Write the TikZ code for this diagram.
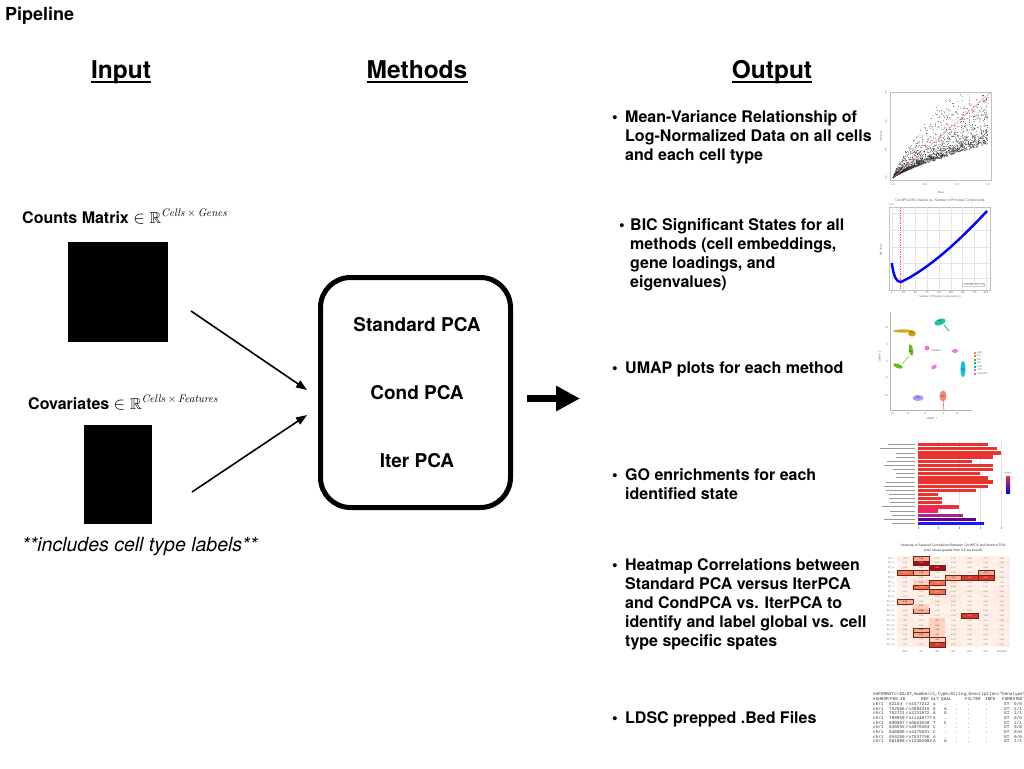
\documentclass[tikz,border=0pt]{standalone}
\usepackage{amssymb}
\usepackage[no-math]{fontspec}
\setmainfont{TeX Gyre Heros}
\newfontfamily\monof{Liberation Mono}
\usetikzlibrary{arrows.meta}
\definecolor{exc}{HTML}{C49A00}
\definecolor{mgc}{HTML}{00C094}
\definecolor{inhc}{HTML}{53B400}
\definecolor{perc}{HTML}{FB61D7}
\definecolor{odcc}{HTML}{00B6EB}
\definecolor{opcc}{HTML}{A58AFF}
\definecolor{ascc}{HTML}{F8766D}
\definecolor{barred}{HTML}{E8332E}
\definecolor{hmA}{HTML}{FFF3EC}
\definecolor{hmB}{HTML}{FDD3C0}
\definecolor{hmC}{HTML}{FCAA8E}
\definecolor{hmD}{HTML}{F4704F}
\definecolor{hmE}{HTML}{D8372B}
\definecolor{hmF}{HTML}{A50F15}
\definecolor{hmbox}{HTML}{6E2418}
\begin{document}
\begin{tikzpicture}[x=1pt,y=-1pt,
  hdr/.style={font=\fontsize{24.5}{29}\selectfont\bfseries, anchor=base, inner sep=0},
  ul/.style={line width=1.6},
  bul/.style={font=\fontsize{16}{19}\selectfont\bfseries, anchor=base west, inner sep=0},
  lbl/.style={font=\fontsize{16}{19}\selectfont\bfseries, anchor=base west, inner sep=0},
  mth/.style={font=\fontsize{19}{23}\selectfont\bfseries, inner sep=0},
  blk/.style={fill=black, inner sep=0},
  feed/.style={line width=1.6, -{Triangle[length=11pt,width=8pt]}},
  tnx/.style={font=\fontsize{2.6}{3}\selectfont, text=black!60, inner sep=0},
  cellnum/.style={font=\fontsize{1.9}{2}\selectfont, inner sep=0},
  mono/.style={font=\monof\fontsize{4.3}{5}\selectfont, text=black!80, anchor=base west, inner sep=0},
  frm/.style={draw=black!25, line width=0.4},
]
\useasboundingbox[fill=white] (0,0) rectangle (1024,768);

% ---------- titles ----------
\node[font=\fontsize{18}{22}\selectfont\bfseries, anchor=base west, inner sep=0] (title) at (5,21) {Pipeline};
\node[hdr] (hin) at (121,78) {Input};
\node[hdr] (hme) at (417,78) {Methods};
\node[hdr] (hout) at (772,78) {Output};
\foreach \h in {hin,hme,hout}
  \draw[ul] ([yshift=-3.8pt]\h.base west) -- ([yshift=-3.8pt]\h.base east);

% ---------- inputs ----------
\node[lbl] (cmt) at (22,223) {Counts Matrix $\in\mathbb{R}^{\mathit{Cells}\,\times\,\mathit{Genes}}$};
\node[blk, minimum width=100, minimum height=100] (cmx) at (118,292) {};
\node[lbl] (cvt) at (28,409) {Covariates $\in\mathbb{R}^{\mathit{Cells}\,\times\,\mathit{Features}}$};
\node[blk, minimum width=68, minimum height=99] (cvx) at (118,474.5) {};
\node[font=\fontsize{19.5}{24}\selectfont\itshape, anchor=base west, inner sep=0] (note) at (22,551) {**includes cell type labels**};

% ---------- methods ----------
\node[draw, line width=5, rounded corners=30, minimum width=190, minimum height=230, inner sep=0] (meth) at (415.5,392.5) {};
\node[mth] (spca) at (417,325) {Standard PCA};
\node[mth] (cpca) at (417,393) {Cond PCA};
\node[mth] (ipca) at (417,461) {Iter PCA};

\coordinate (a1s) at (191,311);
\coordinate (a1e) at (307,390);
\coordinate (a2s) at (192,492);
\coordinate (a2e) at (307,415);
\draw[feed] (a1s) -- (a1e);
\draw[feed] (a2s) -- (a2e);
\coordinate (bos) at (527,398.5);
\coordinate (boe) at (580,398.5);
\draw[line width=7, -{Triangle[length=24pt,width=24pt]}] (bos) -- (boe);

% ---------- output bullets ----------
\node[bul] (d1) at (612,122) {\textbullet};
\node[bul] (o1a) at (625,122) {Mean-Variance Relationship of};
\node[bul] (o1b) at (625,141) {Log-Normalized Data on all cells};
\node[bul] (o1c) at (625,160) {and each cell type};

\node[bul] (d2) at (619,230) {\textbullet};
\node[bul] (o2a) at (630,230) {BIC Significant States for all};
\node[bul] (o2b) at (630,249) {methods (cell embeddings,};
\node[bul] (o2c) at (630,268) {gene loadings, and};
\node[bul] (o2d) at (630,287) {eigenvalues)};

\node[bul] (d3) at (612,373.5) {\textbullet};
\node[bul] (o3a) at (625,373.5) {UMAP plots for each method};

\node[bul] (d4) at (612,480.5) {\textbullet};
\node[bul] (o4a) at (625,480.5) {GO enrichments for each};
\node[bul] (o4b) at (625,499.5) {identified state};

\node[bul] (d5) at (612,570.5) {\textbullet};
\node[bul] (o5a) at (625,570.5) {Heatmap Correlations between};
\node[bul] (o5b) at (625,589.5) {Standard PCA versus IterPCA};
\node[bul] (o5c) at (625,608.5) {and CondPCA vs. IterPCA to};
\node[bul] (o5d) at (625,627.5) {identify and label global vs. cell};
\node[bul] (o5e) at (625,646.5) {type specific spates};

\node[bul] (d6) at (612,723.5) {\textbullet};
\node[bul] (o6a) at (625,723.5) {LDSC prepped .Bed Files};

% ---------- thumbnail 1: mean-variance scatter ----------
\draw[frm] (890,92) rectangle (991,180);
\pgfmathsetseed{42}
\foreach \i in {1,...,2200}{
  \pgfmathsetmacro\s{(0.01+0.99*rnd)^1.4}
  \pgfmathsetmacro\q{0.001+rnd}
  \pgfmathsetmacro\t{min(0.985-0.3*rnd,\s^0.8*(0.40+0.25*\q+0.9*\q^6))}
  \fill[black!85] ({893+95*\s},{178-85*\t}) circle (0.4);
}
\draw[red!45, line width=0.5] (893,178) -- (990,93);
\foreach \xv/\lab in {893/0.0,925/0.5,957/1.0,988/1.5}
  \node[tnx] (sx\xv) at (\xv,185) {\lab};
\foreach \yv/\lab in {178/0.0,150/0.5,122/1.0,93/1.5}
  \node[tnx, rotate=90] (sy\yv) at (886,\yv) {\lab};
\node[tnx] (sxl) at (941,193) {Mean};
\node[tnx, rotate=90] (syl) at (881,136) {Variance};

% ---------- thumbnail 2: BIC curve ----------
\node[tnx, font=\fontsize{3.4}{4}\selectfont] (bict) at (940,201) {CondPCA BIC Values vs. Number of Principal Components};
\node[tnx, anchor=west] (bice) at (889,204.5) {1e7};
\draw[frm] (889,207) rectangle (990,290);
\foreach \k in {0,...,8}{
  \draw[black!10, line width=0.3] ({891.7+11.8*\k},207) -- ({891.7+11.8*\k},290);
  \pgfmathtruncatemacro\tick{25*\k}
  \node[tnx] (bx\k) at ({891.7+11.8*\k},292.5) {\tick};
}
\foreach \yv in {213,230,246.7,262.7,278}
  \draw[black!10, line width=0.3] (889,\yv) -- (990,\yv);
\draw[red!70, dash pattern=on 1pt off 0.7pt, line width=0.6] (900,208) -- (900,289);
\draw[blue, line width=2.4] (891.7,263) .. controls (894,277) and (896,282) .. (901,282) .. controls (930,268) and (960,240) .. (987,211);
\node[draw=black!20, line width=0.2, fill=white, inner sep=0.6, font=\fontsize{2.4}{3}\selectfont, text=black!60] (bicl) at (973,284.5) {\textcolor{red}{- -} Min BIC at j = 16};
\node[tnx] (bicx) at (940,296.5) {Number of Principal Components (j)};
\node[tnx, rotate=90] (bicy) at (881,250) {BIC Value};

% ---------- thumbnail 3: UMAP ----------
\draw[black!30, line width=0.4] (890,312) -- (890,410) -- (972,410);
\foreach \xv/\lab in {892/-10,908/-5,925/0,943/5,957/10}
  \node[tnx] (ux\xv) at (\xv,414) {\lab};
\foreach \yv/\lab in {328/10,345/5,362/0,378/-5,396/-10}
  \node[tnx, anchor=east] (uy\yv) at (888,\yv) {\lab};
\node[tnx] (uxl) at (932,418.5) {UMAP\_1};
\node[tnx, rotate=90] (uyl) at (880,356) {UMAP\_2};
\fill[exc, opacity=0.85] (903,331) ellipse[x radius=10, y radius=1.6];
\fill[exc, opacity=0.9] (912,333.5) ellipse[x radius=4, y radius=3];
\fill[mgc, opacity=0.9] (940,322) ellipse[x radius=6, y radius=3, rotate=20];
\draw[mgc, line width=0.8] (944,325) -- (949,331);
\fill[inhc, opacity=0.9] (898,366) ellipse[x radius=5, y radius=2.2, rotate=-20];
\fill[inhc, opacity=0.9] (911,350) ellipse[x radius=2, y radius=6, rotate=10];
\draw[inhc, line width=0.4] (902,364) -- (909,356);
\fill[perc, opacity=0.9] (927,348) ellipse[x radius=2.5, y radius=2.5];
\fill[perc, opacity=0.9] (955,351) ellipse[x radius=3, y radius=2];
\fill[perc, opacity=0.9] (934,367) ellipse[x radius=3, y radius=2, rotate=30];
\fill[odcc, opacity=0.9] (963,369) ellipse[x radius=2.5, y radius=8];
\fill[opcc, opacity=0.9] (918,398) ellipse[x radius=5.5, y radius=3];
\fill[ascc, opacity=0.9] (943,396) ellipse[x radius=3.5, y radius=5.5];
\draw[ascc, line width=0.7] (943,400) -- (944,411);
\foreach \xv/\yv/\lab in {912/333/EX,940/321/MG,910/352/INH,936/351/PER.END,963/370/ODC,918/398/OPC,943/397/ASC}
  \node[tnx, text=black!80, font=\fontsize{2}{2.4}\selectfont] (ul\lab) at (\xv,\yv) {\lab};
\foreach \k/\cl/\lab in {0/ascc/ASC,1/exc/EX,2/inhc/INH,3/mgc/MG,4/odcc/ODC,5/opcc/OPC,6/perc/PER.END}{
  \fill[\cl] (973.5,{351.5+3.5*\k}) rectangle ++(2,2);
  \node[tnx, anchor=west, font=\fontsize{2.3}{3}\selectfont] (lg\k) at (977,{352.5+3.5*\k}) {\lab};
}

% ---------- thumbnail 4: GO bar chart ----------
\foreach \xv in {918,938,959,980,1001}
  \draw[black!10, line width=0.3] (\xv,441) -- (\xv,527);
\pgfmathsetseed{5}
\foreach \k/\e/\cl in {1/988/barred,2/997/barred,3/1001/barred,4/993/barred,5/972/barred,6/993/barred,7/993/barred,8/980/barred,9/988/barred,10/993/barred,11/988/barred,12/976/barred,13/938/barred,14/942/barred,15/942/barred,16/959/barred!90!magenta,17/938/barred!70!magenta,18/963/magenta!70!blue!85!black,19/976/violet!80!blue,20/984/blue!90!white}{
  \fill[\cl] (918,{443+4.15*(\k-1)}) rectangle (\e,{443+4.15*(\k-1)+3.3});
  \pgfmathsetmacro\ll{18+18*rnd}
  \draw[black!40, line width=0.9] ({915-\ll},{444.65+4.15*(\k-1)}) -- (915,{444.65+4.15*(\k-1)});
}
\foreach \xv in {918,938,959,980,1001}
  \draw[black!40, line width=0.3] (\xv,527) -- (\xv,528.5);
\node[tnx, font=\fontsize{2}{2.4}\selectfont] (cbt) at (1008,473) {p.adjust};
\shade[top color=barred, bottom color=blue] (1006,476) rectangle (1010,493);

% ---------- thumbnail 5: heatmap ----------
\node[tnx, text=black!75, font=\fontsize{3.3}{4}\selectfont] (hmt1) at (953,546) {Heatmap of Squared Correlations Between CondPCA and Iterative PCA};
\node[tnx, text=black!75, font=\fontsize{3.3}{4}\selectfont] (hmt2) at (953,550.5) {(only values greater than 0.2 are boxed)};
\pgfmathsetseed{11}
\foreach \rr in {1,...,19}{
  \node[tnx, anchor=east, font=\fontsize{2.3}{3}\selectfont] (pc\rr) at (895.5,{556+4.79*(\rr-0.5)}) {PC\_\rr\ -};
  \foreach \cc in {1,...,7}{
    \pgfmathtruncatemacro\tn{rnd*28}
    \fill[hmB!\tn!hmA] ({897+16.14*(\cc-1)},{556+4.79*(\rr-1)}) rectangle ++(16.14,4.79);
    \pgfmathsetmacro\nv{0.09*rnd}
    \node[cellnum, text=black!55] (v\rr-\cc) at ({897+16.14*(\cc-0.5)},{556+4.79*(\rr-0.5)}) {\pgfmathprintnumber[fixed,fixed zerofill,precision=3,assume math mode=true]{\nv}};
  }
}
\foreach \rr/\cc/\cl/\val/\bx/\tc in {1/2/hmC/0.36/1/black,2/2/hmF/0.82/1/white,3/3/hmF/0.83/1/white,4/1/hmD/0.56/1/white,4/2/hmC/0.38/1/black,4/6/hmC/0.29/1/black,5/4/hmC/0.28/1/black,5/5/hmE/0.60/1/white,5/6/hmE/0.65/1/white,6/3/hmD/0.46/1/white,7/2/hmD/0.48/1/white,8/3/hmD/0.51/1/white,10/1/hmC/0.29/1/black,12/2/hmC/0.28/1/black,13/5/hmE/0.70/1/white,14/3/hmB/0.17/0/black,15/3/hmB/0.18/0/black,16/3/hmB/0.12/0/black,17/3/hmB/0.17/0/black,6/2/hmB/0.14/0/black,11/2/hmB/0.12/0/black,16/2/hmC/0.30/1/black,17/2/hmC/0.32/1/black,18/3/hmB/0.23/1/black,19/3/hmE/0.53/1/white}{
  \fill[\cl] ({897+16.14*(\cc-1)},{556+4.79*(\rr-1)}) rectangle ++(16.14,4.79);
  \ifnum\bx=1 \draw[hmbox, line width=0.4] ({897+16.14*(\cc-1)},{556+4.79*(\rr-1)}) rectangle ++(16.14,4.79); \fi
  \node[cellnum, text=\tc] (h\rr-\cc) at ({897+16.14*(\cc-0.5)},{556+4.79*(\rr-0.5)}) {\val};
}
\foreach \cc/\lab in {1/ASC,2/EX,3/INH,4/MG,5/ODC,6/OPC,7/PER.END}
  \node[tnx, font=\fontsize{2.3}{3}\selectfont] (hc\cc) at ({897+16.14*(\cc-0.5)},651.5) {\lab};

% ---------- thumbnail 6: bed file text ----------
\node[mono] (tb0) at (873,695) {\#\#FORMAT=<ID=GT,Number=1,Type=String,Description="Genotype"};
\foreach \xv/\lab/\nm in {873/\#CHROM/h1,890/POS/h2,900/ID/h3,921/REF/h4,931/ALT/h5,941/QUAL/h6,965/FILTER/h7,985/INFO/h8,1002/FORMAT/h9,1017/GE/h10}
  \node[mono] (tb\nm) at (\xv,700) {\lab};
\foreach \k/\pos/\rid/\rf/\al/\g in {1/82154/rs4477212/a/./0,2/752566/rs3094315/G/A/1,3/752721/rs3131972/A/G/1,4/798959/rs11240777/G/./0,5/800007/rs6681049/T/C/1,6/838555/rs4970383/C/./0,7/846808/rs4475691/C/./0,8/854250/rs7537756/A/./0,9/861808/rs13302982/A/G/1}{
  \node[mono] (tc\k) at (873,{705.5+4.65*(\k-1)}) {chr1};
  \node[mono] (tp\k) at (889,{705.5+4.65*(\k-1)}) {\pos};
  \node[mono] (ti\k) at (906,{705.5+4.65*(\k-1)}) {\rid};
  \node[mono] (tr\k) at (933,{705.5+4.65*(\k-1)}) {\rf};
  \node[mono] (ta\k) at (944,{705.5+4.65*(\k-1)}) {\al};
  \node[mono] (tq\k) at (955,{705.5+4.65*(\k-1)}) {.};
  \node[mono] (tf\k) at (967,{705.5+4.65*(\k-1)}) {.};
  \node[mono] (tn\k) at (985,{705.5+4.65*(\k-1)}) {.};
  \node[mono] (tg\k) at (1004,{705.5+4.65*(\k-1)}) {GT};
  \node[mono] (tz\k) at (1014,{705.5+4.65*(\k-1)}) {\g/\g};
}
\end{tikzpicture}
\end{document}
